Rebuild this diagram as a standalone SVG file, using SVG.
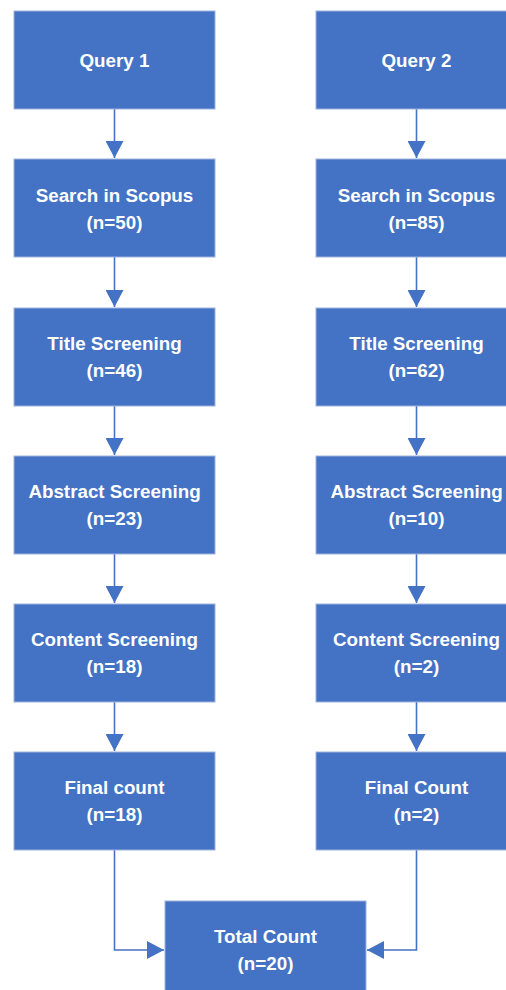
<svg xmlns="http://www.w3.org/2000/svg" width="506" height="990" viewBox="0 0 506 990">
<defs>
<style>
.box{fill:#4472C4;stroke:#9fb4dc;stroke-width:1}
.t{font-family:"Liberation Sans",Arial,sans-serif;font-weight:bold;font-size:18.8px;fill:#ffffff;text-anchor:middle}
.c{fill:none;stroke:#4472C4;stroke-width:1.6}
</style>
<marker id="ah" markerUnits="userSpaceOnUse" markerWidth="18" markerHeight="18" viewBox="0 0 18 18" refX="17" refY="9" orient="auto">
<path d="M0,0 L17,9 L0,18 Z" fill="#4472C4"/>
</marker>
</defs>
<rect width="506" height="990" fill="#ffffff"/>
<g id="connectors">
<line class="c" x1="114.5" y1="109" x2="114.5" y2="158" marker-end="url(#ah)"/>
<line class="c" x1="114.5" y1="257" x2="114.5" y2="307" marker-end="url(#ah)"/>
<line class="c" x1="114.5" y1="406" x2="114.5" y2="455" marker-end="url(#ah)"/>
<line class="c" x1="114.5" y1="554" x2="114.5" y2="603" marker-end="url(#ah)"/>
<line class="c" x1="114.5" y1="702" x2="114.5" y2="751" marker-end="url(#ah)"/>
<line class="c" x1="416.5" y1="109" x2="416.5" y2="158" marker-end="url(#ah)"/>
<line class="c" x1="416.5" y1="257" x2="416.5" y2="307" marker-end="url(#ah)"/>
<line class="c" x1="416.5" y1="406" x2="416.5" y2="455" marker-end="url(#ah)"/>
<line class="c" x1="416.5" y1="554" x2="416.5" y2="603" marker-end="url(#ah)"/>
<line class="c" x1="416.5" y1="702" x2="416.5" y2="751" marker-end="url(#ah)"/>
<polyline class="c" points="114.5,850 114.5,950 164,950" marker-end="url(#ah)"/>
<polyline class="c" points="416.5,850 416.5,950 367,950" marker-end="url(#ah)"/>
</g>
<g id="q1"><rect class="box" x="14" y="11" width="201" height="98"/><text class="t" x="114.5" y="67">Query 1</text></g>
<g id="s1"><rect class="box" x="14" y="159" width="201" height="98"/><text class="t" x="114.5" y="202">Search in Scopus</text><text class="t" x="114.5" y="229">(n=50)</text></g>
<g id="t1"><rect class="box" x="14" y="308" width="201" height="98"/><text class="t" x="114.5" y="350">Title Screening</text><text class="t" x="114.5" y="377">(n=46)</text></g>
<g id="a1"><rect class="box" x="14" y="456" width="201" height="98"/><text class="t" x="114.5" y="498">Abstract Screening</text><text class="t" x="114.5" y="525">(n=23)</text></g>
<g id="c1"><rect class="box" x="14" y="604" width="201" height="98"/><text class="t" x="114.5" y="646">Content Screening</text><text class="t" x="114.5" y="673">(n=18)</text></g>
<g id="f1"><rect class="box" x="14" y="752" width="201" height="98"/><text class="t" x="114.5" y="794">Final count</text><text class="t" x="114.5" y="821">(n=18)</text></g>
<g id="q2"><rect class="box" x="316" y="11" width="201" height="98"/><text class="t" x="416.5" y="67">Query 2</text></g>
<g id="s2"><rect class="box" x="316" y="159" width="201" height="98"/><text class="t" x="416.5" y="202">Search in Scopus</text><text class="t" x="416.5" y="229">(n=85)</text></g>
<g id="t2"><rect class="box" x="316" y="308" width="201" height="98"/><text class="t" x="416.5" y="350">Title Screening</text><text class="t" x="416.5" y="377">(n=62)</text></g>
<g id="a2"><rect class="box" x="316" y="456" width="201" height="98"/><text class="t" x="416.5" y="498">Abstract Screening</text><text class="t" x="416.5" y="525">(n=10)</text></g>
<g id="c2"><rect class="box" x="316" y="604" width="201" height="98"/><text class="t" x="416.5" y="646">Content Screening</text><text class="t" x="416.5" y="673">(n=2)</text></g>
<g id="f2"><rect class="box" x="316" y="752" width="201" height="98"/><text class="t" x="416.5" y="794">Final Count</text><text class="t" x="416.5" y="821">(n=2)</text></g>
<g id="total"><rect class="box" x="165" y="901" width="201" height="98"/><text class="t" x="265.5" y="943">Total Count</text><text class="t" x="265.5" y="970">(n=20)</text></g>
</svg>
